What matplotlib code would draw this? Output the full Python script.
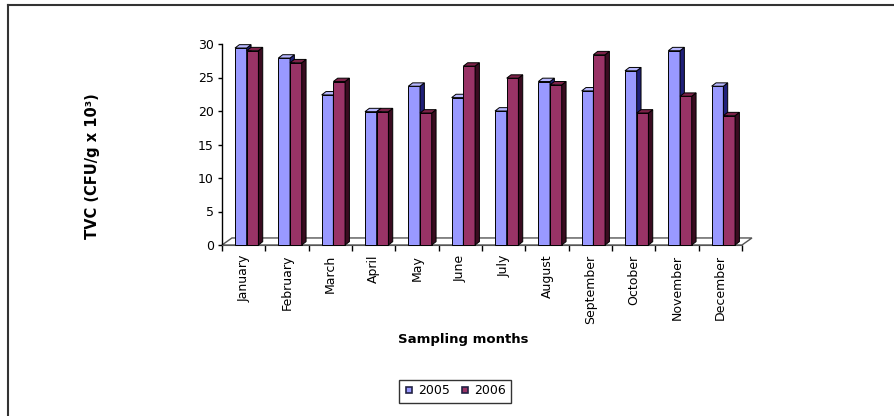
import matplotlib
matplotlib.use("Agg")
import matplotlib.pyplot as plt
from matplotlib.patches import Polygon
from matplotlib.lines import Line2D
import numpy as np

months = ["January", "February", "March", "April", "May", "June", "July",
          "August", "September", "October", "November", "December"]
tvc_2005 = [29.4, 27.9, 22.4, 19.9, 23.7, 22.0, 20.0, 24.4, 23.0, 26.0, 29.0, 23.7]
tvc_2006 = [29.0, 27.2, 24.4, 19.9, 19.7, 26.7, 24.9, 23.9, 28.4, 19.7, 22.2, 19.3]
series_labels = ["2005", "2006"]
y_ticks = [0, 5, 10, 15, 20, 25, 30]

plt.rcParams["font.family"] = ["DejaVu Sans"]

W, H = 894, 416
fig = plt.figure(figsize=(W / 100, H / 100), dpi=100)
fig.patch.set_facecolor("white")

# plot area in pixel terms -> figure fractions
x0, x1, y_top, y_bot = 222, 742, 44, 245
ax = fig.add_axes([x0 / W, (H - y_bot) / H, (x1 - x0) / W, (y_bot - y_top) / H])
ax.set_xlim(-0.5, 11.5)
ax.set_ylim(0, 30)

# pseudo-3D depth of the columns and floor (data units)
dx, dy = 0.1, 0.5
fx, fy = 0.23, 1.05
bar_w = 0.27

faces = [
    dict(front="#9999ff", top="#b8b8ff", side="#20207a"),
    dict(front="#993366", top="#7d2249", side="#3a0c20"),
]

# floor
floor = Polygon([(-0.5, 0), (11.5, 0), (11.5 + fx, fy), (-0.5 + fx, fy)],
                closed=True, facecolor="white", edgecolor="#555555",
                lw=1.0, clip_on=False, zorder=1)
ax.add_patch(floor)

x = np.arange(len(months))
lefts = [x - 0.2, x + 0.07]
for s, vals in enumerate([tvc_2005, tvc_2006]):
    c = faces[s]
    ax.bar(lefts[s], vals, width=bar_w, align="edge", color=c["front"],
           edgecolor="black", lw=0.7, zorder=3 + s, clip_on=False)
    for xl, v in zip(lefts[s], vals):
        xr = xl + bar_w
        side = Polygon([(xr, 0), (xr + dx, dy), (xr + dx, v + dy), (xr, v)],
                       closed=True, facecolor=c["side"], edgecolor="black",
                       lw=0.7, zorder=3 + s, clip_on=False)
        top = Polygon([(xl, v), (xr, v), (xr + dx, v + dy), (xl + dx, v + dy)],
                      closed=True, facecolor=c["top"], edgecolor="black",
                      lw=0.7, zorder=3 + s, clip_on=False)
        ax.add_patch(side)
        ax.add_patch(top)

for sp in ["top", "right", "bottom"]:
    ax.spines[sp].set_visible(False)
ax.spines["left"].set_linewidth(1.0)
ax.set_yticks(y_ticks)
ax.tick_params(axis="y", length=3, width=1, labelsize=9, pad=3)

ax.set_xticks(x)
ax.set_xticklabels(months, rotation=90, fontsize=9)
ax.tick_params(axis="x", which="major", length=0, pad=7)
ax.set_xticks(np.arange(-0.5, 12, 1), minor=True)
ax.tick_params(axis="x", which="minor", length=4, width=1, direction="out")
ax.spines["bottom"].set_visible(True)
ax.spines["bottom"].set_color("#555555")

# axis titles
fig.text(93 / W, 1 - 166 / H, "TVC (CFU/g x 10³)", rotation=90, fontsize=10.5,
         fontweight="bold", ha="center", va="center")
fig.text(463 / W, 1 - 339 / H, "Sampling months", fontsize=9.5,
         fontweight="bold", ha="center", va="center")

# legend
handles = [Line2D([], [], ls="none", marker="s", markersize=5,
                  markerfacecolor=faces[i]["front"], markeredgecolor="#222244",
                  markeredgewidth=1.2) for i in range(2)]
leg = fig.legend(handles, series_labels, loc="center",
                 bbox_to_anchor=(455 / W, 1 - 391 / H), ncol=2, fontsize=9,
                 frameon=True, fancybox=False, handlelength=0.8,
                 handletextpad=0.3, columnspacing=0.8, borderpad=0.4)
leg.get_frame().set_edgecolor("black")
leg.get_frame().set_linewidth(1.0)

# frame lines along the top and left of the figure
fig.add_artist(Line2D([8 / W, 1], [1 - 5 / H, 1 - 5 / H], color="#333333", lw=1.5))
fig.add_artist(Line2D([8 / W, 8 / W], [0, 1 - 5 / H], color="#333333", lw=1.5))

fig.savefig("out.png", dpi=100)
